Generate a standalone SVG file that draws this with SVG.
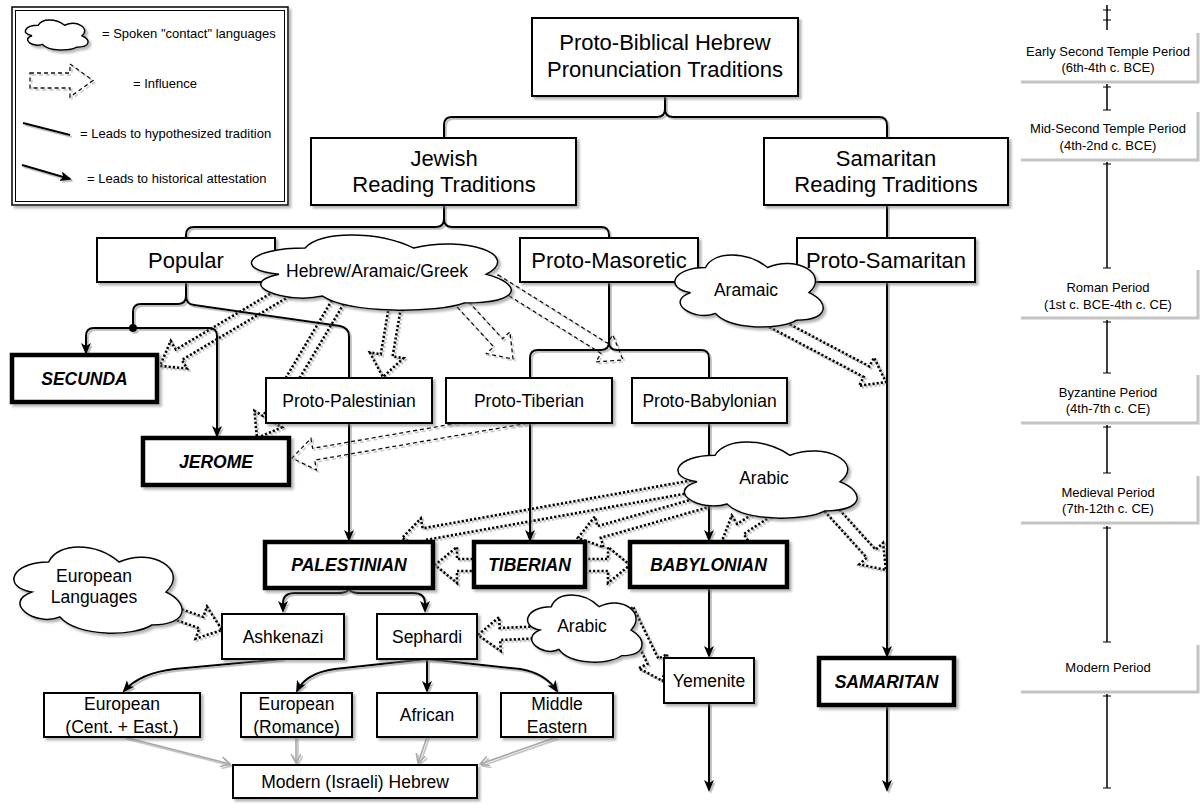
<svg xmlns="http://www.w3.org/2000/svg" width="1200" height="808" viewBox="0 0 1200 808">
<defs>
<style>
text{font-family:"Liberation Sans",Arial,Helvetica,sans-serif;fill:#000}
.c{text-anchor:middle}
.t22{font-size:22px}
.t17{font-size:17.5px}
.tb{font-size:17.5px;font-weight:bold;font-style:italic}
.t13{font-size:13px}
.box{fill:#fff;stroke:#000;stroke-width:2;filter:url(#sh)}
.bold{fill:#fff;stroke:#000;stroke-width:4.5;filter:url(#sh)}
.cloud{fill:#fff;stroke:#000;stroke-width:1.5;vector-effect:non-scaling-stroke}
.conn{fill:none;stroke:#000;stroke-width:2}
.arr{marker-end:url(#ah)}
.gray{fill:none;stroke:#a8a8a8;stroke-width:1.6;marker-end:url(#gh)}
.dot{fill:none;stroke:#000;stroke-width:2.6;stroke-dasharray:2.2 2}
.dash{fill:none;stroke:#111;stroke-width:1.3;stroke-dasharray:4 3}
.tl{fill:none;stroke:#000;stroke-width:1.5}
.tk{fill:none;stroke:#000;stroke-width:1.2}
.pb{fill:#fff;stroke:none}
.pe{fill:none;stroke:#c4c4c4;stroke-width:3}
</style>
<filter id="sh" filterUnits="userSpaceOnUse" x="0" y="0" width="1200" height="808">
<feDropShadow dx="2.5" dy="2.5" stdDeviation="0.8" flood-color="#777" flood-opacity="0.55"/>
</filter>
<filter id="shl" filterUnits="userSpaceOnUse" x="0" y="0" width="1200" height="808">
<feDropShadow dx="1.8" dy="1.8" stdDeviation="0.6" flood-color="#777" flood-opacity="0.5"/>
</filter>
<marker id="ah" markerUnits="userSpaceOnUse" markerWidth="13" markerHeight="11" refX="10" refY="5" orient="auto">
<path d="M0,0 L12,5 L0,10 L3,5 Z" fill="#000"/>
</marker>
<marker id="gh" markerUnits="userSpaceOnUse" markerWidth="12" markerHeight="12" refX="9" refY="5" orient="auto">
<path d="M0,0 L9,5 L0,10" fill="none" stroke="#a8a8a8" stroke-width="1.5"/>
</marker>
</defs>
<rect x="0" y="0" width="1200" height="808" fill="#fff"/>

<!-- Legend -->
<g id="legend">
<rect x="12" y="7" width="276" height="198" fill="#fff" stroke="#000" stroke-width="1.5" filter="url(#sh)"/>
<rect x="15.5" y="10.5" width="269" height="191" fill="none" stroke="#000" stroke-width="1"/>
<g filter="url(#sh)"><path class="cloud" transform="translate(20.8,16.5) scale(70,34.9)" d="M0.25,0.25 C0.05,0.25 0,0.5 0.16,0.55 C0,0.66 0.18,0.9 0.31,0.8 C0.4,1 0.7,1 0.8,0.88 C1,0.88 1,0.66 0.875,0.55 C1,0.33 0.8,0.1 0.625,0.25 C0.5,0.05 0.3,0.05 0.25,0.25 Z"/></g>
<text class="t13" x="102" y="38">= Spoken "contact" languages</text>
<g filter="url(#shl)">
<path class="dash" d="M30,73 H70 V64 L93,80.5 L70,97 V88 H30 Z"/>
<path class="conn" d="M23,123 L70,135"/>
<path class="conn arr" d="M22,165 L70,179"/>
</g>
<text class="t13" x="133" y="88">= Influence</text>
<text class="t13" x="80" y="138">= Leads to hypothesized tradition</text>
<text class="t13" x="87" y="183">= Leads to historical attestation</text>
</g>

<!-- Timeline -->
<g id="timeline">
<path class="tl" d="M1107,5 V30 M1107,84 V110 M1107,162 V268 M1107,320 V373 M1107,425 V473 M1107,526 V642 M1107,694 V788"/>
<path class="tk" d="M1103,10 H1111 M1103,20 H1111 M1103,87 H1111 M1103,110 H1111 M1103,164 H1111 M1103,268 H1111 M1103,322 H1111 M1103,373 H1111 M1103,427 H1111 M1103,473 H1111 M1103,528 H1111 M1103,642 H1111 M1103,696 H1111 M1103,788 H1111"/>
<g id="tl-early"><rect class="pb" x="1021" y="33" width="177" height="49"/><path class="pe" d="M1198,33 V82 H1021"/>
<text class="t13 c" x="1108" y="56">Early Second Temple Period</text><text class="t13 c" x="1108" y="72">(6th-4th c. BCE)</text></g>
<g id="tl-mid"><rect class="pb" x="1021" y="112" width="177" height="48"/><path class="pe" d="M1198,112 V160 H1021"/>
<text class="t13 c" x="1108" y="133">Mid-Second Temple Period</text><text class="t13 c" x="1108" y="150">(4th-2nd c. BCE)</text></g>
<g id="tl-roman"><rect class="pb" x="1021" y="270" width="177" height="48"/><path class="pe" d="M1198,270 V318 H1021"/>
<text class="t13 c" x="1108" y="292">Roman Period</text><text class="t13 c" x="1108" y="309">(1st c. BCE-4th c. CE)</text></g>
<g id="tl-byz"><rect class="pb" x="1021" y="375" width="177" height="48"/><path class="pe" d="M1198,375 V423 H1021"/>
<text class="t13 c" x="1108" y="397">Byzantine Period</text><text class="t13 c" x="1108" y="413">(4th-7th c. CE)</text></g>
<g id="tl-med"><rect class="pb" x="1021" y="476" width="177" height="47"/><path class="pe" d="M1198,476 V523 H1021"/>
<text class="t13 c" x="1108" y="497">Medieval Period</text><text class="t13 c" x="1108" y="513">(7th-12th c. CE)</text></g>
<g id="tl-modern"><rect class="pb" x="1021" y="645" width="177" height="47"/><path class="pe" d="M1198,645 V692 H1021"/>
<text class="t13 c" x="1108" y="672">Modern Period</text></g>
</g>

<!-- Connectors -->
<g id="connectors" filter="url(#shl)">
<path class="conn" d="M665,96 V109 Q665,117 657,117 H452 Q444,117 444,125 V138"/>
<path class="conn" d="M665,109 Q665,117 673,117 H879 Q887,117 887,125 V138"/>
<path class="conn" d="M444,205 V219 Q444,227 436,227 H194 Q186,227 186,235 V238"/>
<path class="conn" d="M444,219 Q444,227 452,227 H601 Q609,227 609,235 V238"/>
<path class="conn" d="M887,205 V238"/>
<path class="conn arr" d="M887,282 V656"/>
<path class="conn arr" d="M887,705 V790"/>
<path class="conn" d="M186,282 V296 Q186,304 178,304 H141 Q133,304 133,312 V328"/>
<path class="conn arr" d="M133,328 H94 Q86,328 86,336 V353"/>
<path class="conn arr" d="M133,328 H209 Q217,328 217,336 V436"/>
<circle cx="133" cy="328" r="4" fill="#000"/>
<path class="conn" d="M186,296 Q186,304 194,305 L340,326 Q349,328 349,336 V378"/>
<path class="conn arr" d="M349,423 V540"/>
<path class="conn" d="M609,282 V342 Q609,350 601,350 H538 Q530,350 530,358 V378"/>
<path class="conn" d="M609,342 Q609,350 617,350 H701 Q709,350 709,358 V378"/>
<path class="conn arr" d="M530,423 V540"/>
<path class="conn arr" d="M709,423 V540"/>
<path class="conn arr" d="M709,588 V656"/>
<path class="conn arr" d="M709,703 V790"/>
<path class="conn arr" d="M349,588 Q349,593 337,593 H295 Q283,593 283,603 V611"/>
<path class="conn arr" d="M349,588 Q349,593 361,593 H413 Q425,593 425,603 V611"/>
<path class="conn arr" d="M283,659 L175,669 Q140,673 124,691"/>
<path class="conn arr" d="M427,659 L335,669 Q306,673 297,691"/>
<path class="conn arr" d="M427,659 V691"/>
<path class="conn arr" d="M427,659 L520,669 Q545,673 557,691"/>
<path class="gray" d="M124,737 L230,764"/>
<path class="gray" d="M296,737 V763"/>
<path class="gray" d="M427,737 L418,763"/>
<path class="gray" d="M557,737 L480,764"/>
<!-- influence arrows -->
<path class="dot" transform="translate(290,289) rotate(149.4)" d="M0,-6 H129.1 V-16 L151.1,0 L129.1,16 V6 H0 Z"/>
<path class="dot" transform="translate(345,290) rotate(120.74)" d="M0,-6 H150.2 V-16 L172.2,0 L150.2,16 V6 H0 Z"/>
<path class="dot" transform="translate(397,295) rotate(99.7)" d="M0,-6 H61.2 V-17 L83.2,0 L61.2,17 V6 H0 Z"/>
<path class="dash" transform="translate(445,285) rotate(47.4)" d="M0,-6 H78.5 V-16 L100.5,0 L78.5,16 V6 H0 Z"/>
<path class="dash" transform="translate(495,280) rotate(32)" d="M0,-6 H128.9 V-16 L150.9,0 L128.9,16 V6 H0 Z"/>
<path class="dash" transform="translate(540,415) rotate(170.16)" d="M0,-6 H229.7 V-16 L251.7,0 L229.7,16 V6 H0 Z"/>
<path class="dot" transform="translate(750,310) rotate(27.9)" d="M0,-6 H131.9 V-16 L153.9,0 L131.9,16 V6 H0 Z"/>
<path class="dot" transform="translate(700,485) rotate(169.9)" d="M0,-6 H280.7 V-16 L302.7,0 L280.7,16 V6 H0 Z"/>
<path class="dot" transform="translate(705,502) rotate(164.2)" d="M0,-6 H110 V-16 L132,0 L110,16 V6 H0 Z"/>
<path class="dot" transform="translate(785,500) rotate(146.9)" d="M0,-6 H53.2 V-16 L75.2,0 L53.2,16 V6 H0 Z"/>
<path class="dot" transform="translate(818,495) rotate(47.8)" d="M0,-6 H79.2 V-16 L101.2,0 L79.2,16 V6 H0 Z"/>
<path class="dot" transform="translate(476,565) rotate(180)" d="M0,-6 H19 V-18 L41,0 L19,18 V6 H0 Z"/>
<path class="dot" transform="translate(584,565)" d="M0,-6 H24 V-18 L46,0 L24,18 V6 H0 Z"/>
<path class="dot" transform="translate(160,608) rotate(19.5)" d="M0,-6 H43.8 V-17 L65.8,0 L43.8,17 V6 H0 Z"/>
<path class="dot" transform="translate(545,632) rotate(177.4)" d="M0,-6 H45.1 V-17 L67.1,0 L45.1,17 V6 H0 Z"/>
<path class="dot" transform="translate(628,610) rotate(64)" d="M0,-6 H57 V-16 L79,0 L57,16 V6 H0 Z"/>
</g>

<!-- Nodes -->
<g id="n-root"><rect class="box" x="532" y="18" width="266" height="78"/>
<text class="t22 c" x="665" y="50">Proto-Biblical Hebrew</text><text class="t22 c" x="665" y="77">Pronunciation Traditions</text></g>
<g id="n-jewish"><rect class="box" x="311" y="138" width="265" height="67"/>
<text class="t22 c" x="444" y="166">Jewish</text><text class="t22 c" x="444" y="192">Reading Traditions</text></g>
<g id="n-samaritan-rt"><rect class="box" x="764" y="138" width="244" height="67"/>
<text class="t22 c" x="886" y="166">Samaritan</text><text class="t22 c" x="886" y="192">Reading Traditions</text></g>
<g id="n-popular"><rect class="box" x="97" y="238" width="178" height="44"/>
<text class="t22 c" x="186" y="268">Popular</text></g>
<g id="n-protomasoretic"><rect class="box" x="520" y="238" width="178" height="44"/>
<text class="t22 c" x="609" y="268">Proto-Masoretic</text></g>
<g id="n-protosamaritan"><rect class="box" x="797" y="238" width="178" height="44"/>
<text class="t22 c" x="886" y="268">Proto-Samaritan</text></g>
<g id="n-secunda"><rect class="bold" x="12" y="355" width="145" height="47"/>
<text class="tb c" x="84.5" y="385">SECUNDA</text></g>
<g id="n-protopalestinian"><rect class="box" x="266" y="378" width="166" height="45"/>
<text class="t17 c" x="349" y="407">Proto-Palestinian</text></g>
<g id="n-prototiberian"><rect class="box" x="446" y="378" width="166" height="45"/>
<text class="t17 c" x="529" y="407">Proto-Tiberian</text></g>
<g id="n-protobabylonian"><rect class="box" x="632" y="378" width="155" height="45"/>
<text class="t17 c" x="709.5" y="407">Proto-Babylonian</text></g>
<g id="n-jerome"><rect class="bold" x="143" y="438" width="146" height="47"/>
<text class="tb c" x="216" y="468">JEROME</text></g>
<g id="n-palestinian"><rect class="bold" x="265" y="542" width="168" height="46"/>
<text class="tb c" x="349" y="571">PALESTINIAN</text></g>
<g id="n-tiberian"><rect class="bold" x="474" y="542" width="111" height="45"/>
<text class="tb c" x="529.5" y="571">TIBERIAN</text></g>
<g id="n-babylonian"><rect class="bold" x="630" y="542" width="157" height="45"/>
<text class="tb c" x="708.5" y="571">BABYLONIAN</text></g>
<g id="n-ashkenazi"><rect class="box" x="222" y="614" width="122" height="45"/>
<text class="t17 c" x="283" y="643">Ashkenazi</text></g>
<g id="n-sephardi"><rect class="box" x="377" y="614" width="100" height="45"/>
<text class="t17 c" x="427" y="643">Sephardi</text></g>
<g id="n-yemenite"><rect class="box" x="664" y="658" width="90" height="45"/>
<text class="t17 c" x="709" y="687">Yemenite</text></g>
<g id="n-samaritan"><rect class="bold" x="819" y="658" width="135" height="47"/>
<text class="tb c" x="886.5" y="688">SAMARITAN</text></g>
<g id="n-eur-ce"><rect class="box" x="44" y="693" width="156" height="44"/>
<text class="t17 c" x="122" y="710">European</text><text class="t17 c" x="122" y="733">(Cent. + East.)</text></g>
<g id="n-eur-rom"><rect class="box" x="241" y="693" width="111" height="44"/>
<text class="t17 c" x="296.5" y="710">European</text><text class="t17 c" x="296.5" y="733">(Romance)</text></g>
<g id="n-african"><rect class="box" x="377" y="693" width="100" height="44"/>
<text class="t17 c" x="427" y="721">African</text></g>
<g id="n-mideast"><rect class="box" x="501" y="693" width="112" height="44"/>
<text class="t17 c" x="557" y="710">Middle</text><text class="t17 c" x="557" y="733">Eastern</text></g>
<g id="n-modern"><rect class="box" x="233" y="765" width="244" height="33"/>
<text class="t17 c" x="355" y="788">Modern (Israeli) Hebrew</text></g>

<g id="c-hag"><g filter="url(#sh)"><path class="cloud" transform="translate(232.6,226.3) scale(290,87.2)" d="M0.25,0.25 C0.05,0.25 0,0.5 0.16,0.55 C0,0.66 0.18,0.9 0.31,0.8 C0.4,1 0.7,1 0.8,0.88 C1,0.88 1,0.66 0.875,0.55 C1,0.33 0.8,0.1 0.625,0.25 C0.5,0.05 0.3,0.05 0.25,0.25 Z"/></g>
<text class="t17 c" x="377" y="277">Hebrew/Aramaic/Greek</text></g>
<g id="c-aramaic"><g filter="url(#sh)"><path class="cloud" transform="translate(664.1,246.6) scale(165.6,83.7)" d="M0.25,0.25 C0.05,0.25 0,0.5 0.16,0.55 C0,0.66 0.18,0.9 0.31,0.8 C0.4,1 0.7,1 0.8,0.88 C1,0.88 1,0.66 0.875,0.55 C1,0.33 0.8,0.1 0.625,0.25 C0.5,0.05 0.3,0.05 0.25,0.25 Z"/></g>
<text class="t17 c" x="746" y="296">Aramaic</text></g>
<g id="c-arabic1"><g filter="url(#sh)"><path class="cloud" transform="translate(665,433.2) scale(200,88.4)" d="M0.25,0.25 C0.05,0.25 0,0.5 0.16,0.55 C0,0.66 0.18,0.9 0.31,0.8 C0.4,1 0.7,1 0.8,0.88 C1,0.88 1,0.66 0.875,0.55 C1,0.33 0.8,0.1 0.625,0.25 C0.5,0.05 0.3,0.05 0.25,0.25 Z"/></g>
<text class="t17 c" x="764" y="484">Arabic</text></g>
<g id="c-european"><g filter="url(#sh)"><path class="cloud" transform="translate(1.7,537) scale(187.8,100)" d="M0.25,0.25 C0.05,0.25 0,0.5 0.16,0.55 C0,0.66 0.18,0.9 0.31,0.8 C0.4,1 0.7,1 0.8,0.88 C1,0.88 1,0.66 0.875,0.55 C1,0.33 0.8,0.1 0.625,0.25 C0.5,0.05 0.3,0.05 0.25,0.25 Z"/></g>
<text class="t17 c" x="94" y="582">European</text><text class="t17 c" x="94" y="603">Languages</text></g>
<g id="c-arabic2"><g filter="url(#sh)"><path class="cloud" transform="translate(519.3,587.2) scale(127.8,77.9)" d="M0.25,0.25 C0.05,0.25 0,0.5 0.16,0.55 C0,0.66 0.18,0.9 0.31,0.8 C0.4,1 0.7,1 0.8,0.88 C1,0.88 1,0.66 0.875,0.55 C1,0.33 0.8,0.1 0.625,0.25 C0.5,0.05 0.3,0.05 0.25,0.25 Z"/></g>
<text class="t17 c" x="582" y="632">Arabic</text></g>
</svg>
